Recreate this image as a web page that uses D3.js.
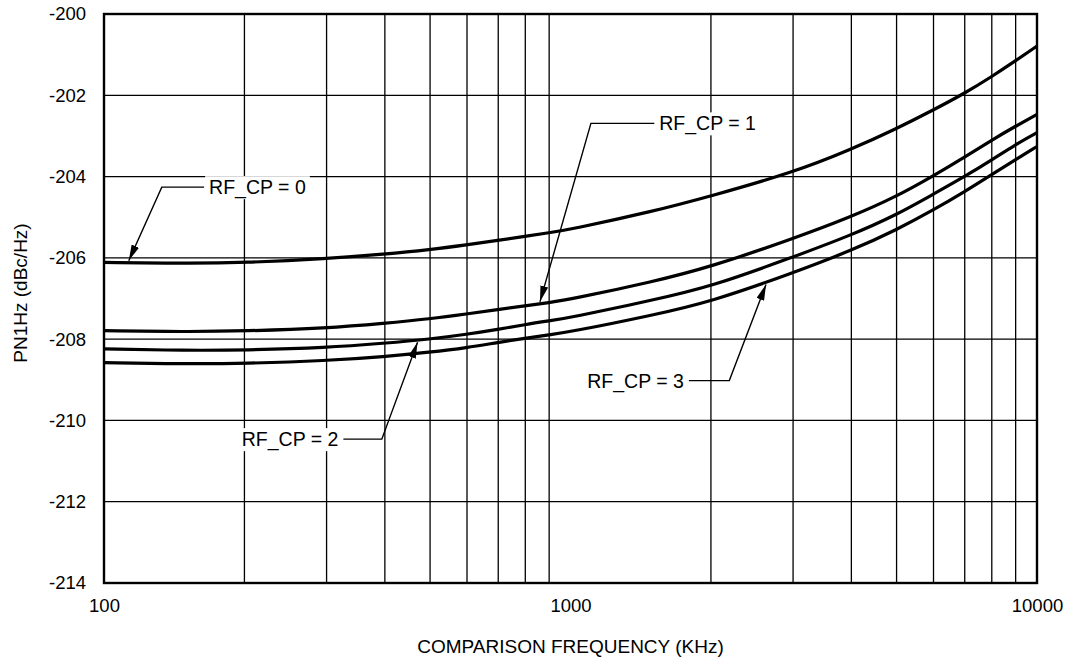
<!DOCTYPE html>
<html lang="en">
<head>
    <meta charset="UTF-8">
    <title>PN1Hz vs Comparison Frequency</title>
    <script src="https://d3js.org/d3.v7.min.js"></script>
    <style>
        body { margin: 0; background: #fff; }
        text { font-family: "Liberation Sans", Arial, sans-serif; fill: #000; }
        .grid line { stroke: #000; stroke-width: 1.3px; }
        .curve { fill: none; stroke: #000; stroke-width: 3.2px; }
        .leader { fill: none; stroke: #000; stroke-width: 1.4px; }
    </style>
</head>
<body>
    <div id="chart"></div>

    <script>
        // Data (frequency in kHz, PN1Hz in dBc/Hz)
        const freqs = [100, 150, 200, 300, 400, 500, 600, 700, 800, 900, 1000, 1500, 2000, 3000, 4000, 5000, 6000, 7000, 8000, 9000, 10000];
        const rfcp0 = [-206.11, -206.14, -206.12, -206.02, -205.91, -205.80, -205.68, -205.57, -205.47, -205.38, -205.30, -204.86, -204.48, -203.90, -203.33, -202.82, -202.36, -201.95, -201.54, -201.15, -200.79];
        const rfcp1 = [-207.79, -207.82, -207.80, -207.73, -207.61, -207.50, -207.38, -207.27, -207.18, -207.10, -207.02, -206.59, -206.22, -205.53, -204.99, -204.49, -203.98, -203.52, -203.10, -202.76, -202.47];
        const rfcp2 = [-208.24, -208.28, -208.27, -208.21, -208.10, -208.00, -207.88, -207.76, -207.64, -207.55, -207.47, -207.04, -206.71, -205.98, -205.44, -204.94, -204.43, -204.00, -203.59, -203.21, -202.92];
        const rfcp3 = [-208.58, -208.61, -208.60, -208.53, -208.43, -208.32, -208.21, -208.08, -207.98, -207.89, -207.82, -207.41, -207.08, -206.37, -205.82, -205.31, -204.82, -204.37, -203.95, -203.58, -203.26];
        const seriesList = [rfcp0, rfcp1, rfcp2, rfcp3];

        const xTicks = [100, 1000, 10000];
        const xGrid = [200, 300, 400, 500, 600, 700, 800, 900, 2000, 3000, 4000, 5000, 6000, 7000, 8000, 9000];
        const yTicks = [-200, -202, -204, -206, -208, -210, -212, -214];

        // Callouts: label, arrow tip frequency, elbow (freq, value), text side
        const labels = ["RF_CP = 0", "RF_CP = 1", "RF_CP = 2", "RF_CP = 3"];
        const tipFreq = [113, 860, 470, 2625];
        const elbowFreq = [133, 1106, 394, 2190];
        const elbowVal = [-204.26, -202.69, -210.46, -209.02];
        const textFreq = [168, 1550, 318, 1750];
        const textSide = ["right", "right", "left", "left"];

        // Dimensions
        const margin = {top: 14, right: 36, bottom: 80, left: 104};
        const width = 1073 - margin.left - margin.right;
        const height = 663 - margin.top - margin.bottom;

        const svg = d3.select("#chart")
            .append("svg")
            .attr("width", 1073)
            .attr("height", 663)
            .append("g")
            .attr("transform", `translate(${margin.left},${margin.top})`);

        const x = d3.scaleLog().domain([100, 10000]).range([0, width]);
        const y = d3.scaleLinear().domain([-214, -200]).range([height, 0]);

        // Grid
        const grid = svg.append("g").attr("class", "grid");
        grid.selectAll(".vg")
            .data(xGrid)
            .join("line")
            .attr("x1", d => x(d)).attr("x2", d => x(d))
            .attr("y1", 0).attr("y2", height);
        grid.selectAll(".hg")
            .data(yTicks.slice(1, -1))
            .join("line")
            .attr("class", "hg")
            .attr("x1", 0).attr("x2", width)
            .attr("y1", d => y(d)).attr("y2", d => y(d));

        // Axes (labels only, no tick marks)
        const xAxis = svg.append("g")
            .attr("transform", `translate(0,${height})`)
            .call(d3.axisBottom(x).tickValues(xTicks).tickFormat(d3.format("d")).tickSize(0).tickPadding(16));
        const yAxis = svg.append("g")
            .call(d3.axisLeft(y).tickValues(yTicks).tickFormat(d => d).tickSize(0).tickPadding(18));
        [xAxis, yAxis].forEach(a => {
            a.select(".domain").remove();
            a.selectAll("text").style("font-size", "18.5px").style("font-family", "Liberation Sans, Arial, sans-serif");
        });

        // Curves
        const line = d3.line()
            .x((d, i) => x(freqs[i]))
            .y(d => y(d))
            .curve(d3.curveBasis);

        svg.selectAll(".curve")
            .data(seriesList)
            .join("path")
            .attr("class", "curve")
            .attr("d", line);

        // Frame
        svg.append("rect")
            .attr("width", width).attr("height", height)
            .attr("fill", "none").attr("stroke", "#000").attr("stroke-width", 2.4);

        // Arrow marker
        svg.append("defs").append("marker")
            .attr("id", "arrow")
            .attr("viewBox", "0 0 16 8")
            .attr("refX", 16).attr("refY", 4)
            .attr("markerWidth", 16).attr("markerHeight", 8)
            .attr("markerUnits", "userSpaceOnUse")
            .attr("orient", "auto")
            .append("path")
            .attr("d", "M0,0L16,4L0,8Z")
            .attr("fill", "#000");

        // Value on a series at a given frequency (interpolated in log-frequency)
        function valueAt(series, f) {
            const lf = Math.log10(f);
            for (let i = 0; i < freqs.length - 1; i++) {
                const a = Math.log10(freqs[i]), b = Math.log10(freqs[i + 1]);
                if (lf >= a && lf <= b) {
                    const t = (lf - a) / (b - a);
                    return series[i] + t * (series[i + 1] - series[i]);
                }
            }
            return series[series.length - 1];
        }

        // Callouts
        labels.forEach((lab, i) => {
            const g = svg.append("g");
            const ty = y(elbowVal[i]);
            const tx = x(textFreq[i]);
            const t = g.append("text")
                .attr("x", tx)
                .attr("y", ty)
                .attr("dy", "0.36em")
                .attr("text-anchor", textSide[i] === "right" ? "start" : "end")
                .style("font-size", "19.5px")
                .text(lab);
            const bb = t.node().getBBox();
            g.insert("rect", "text")
                .attr("x", bb.x - 4).attr("y", bb.y)
                .attr("width", bb.width + 8).attr("height", bb.height)
                .attr("fill", "#fff");

            const edge = textSide[i] === "right" ? bb.x - 5 : bb.x + bb.width + 5;
            const tipY = y(valueAt(seriesList[i], tipFreq[i]));
            const dir = tipY > ty ? -2 : 2;
            g.append("path")
                .attr("class", "leader")
                .attr("d", `M${edge},${ty}L${x(elbowFreq[i])},${ty}L${x(tipFreq[i])},${tipY + dir}`)
                .attr("marker-end", "url(#arrow)");
        });

        // Axis titles
        svg.append("text")
            .attr("x", width / 2)
            .attr("y", height + 70)
            .attr("text-anchor", "middle")
            .style("font-size", "19px")
            .text("COMPARISON FREQUENCY (KHz)");

        svg.append("text")
            .attr("transform", `translate(${20 - margin.left},${293 - margin.top}) rotate(-90)`)
            .attr("dy", "0.36em")
            .attr("text-anchor", "middle")
            .style("font-size", "19px")
            .text("PN1Hz (dBc/Hz)");
    </script>
</body>
</html>
